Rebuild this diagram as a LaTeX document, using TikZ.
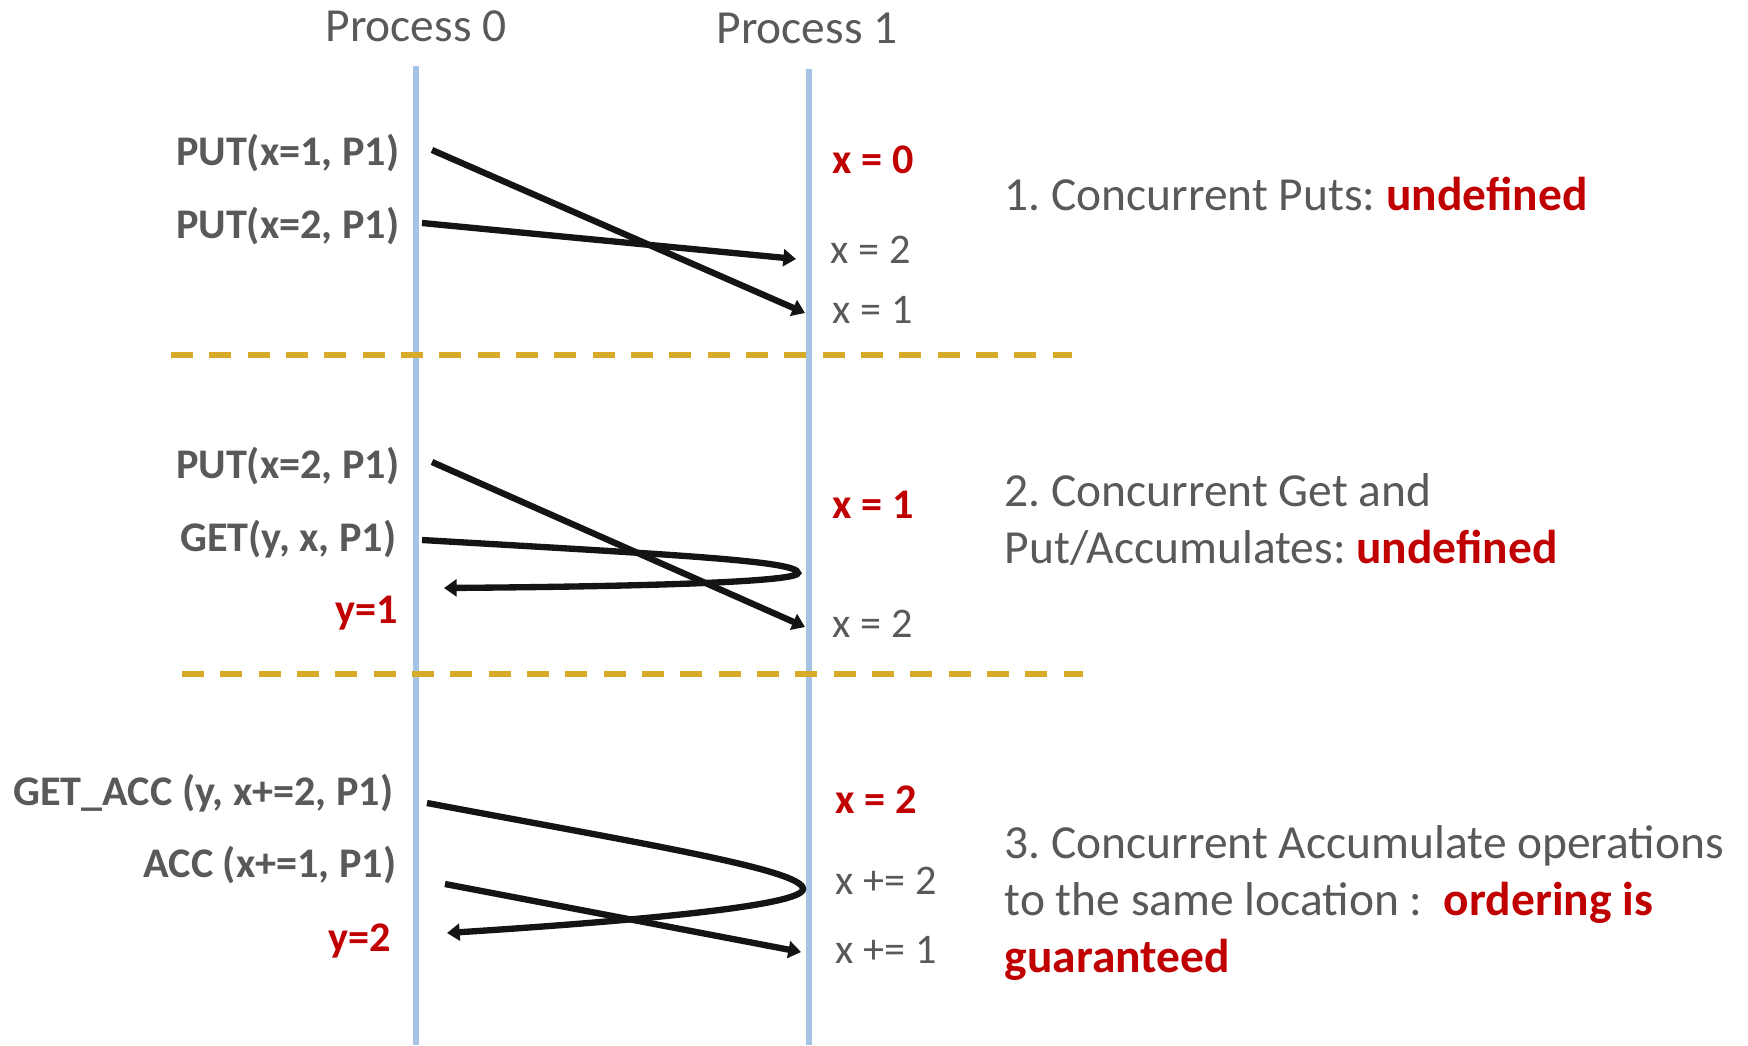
\documentclass[tikz,border=0pt]{standalone}
\usepackage{fontspec}
\setmainfont{Carlito}
\usetikzlibrary{positioning,calc,arrows.meta}
\frenchspacing

\definecolor{txtgray}{RGB}{89,89,89}
\definecolor{hotred}{RGB}{192,0,0}
\definecolor{lifeblue}{RGB}{165,196,228}
\definecolor{sepgold}{RGB}{216,170,42}

\tikzset{
	proc/.style={anchor=base, inner sep=0pt, text=txtgray, font=\fontsize{13.5}{16.2}\selectfont},
	op/.style={anchor=base east, inner sep=0pt, text=txtgray, font=\fontsize{12}{14}\selectfont\bfseries},
	res/.style={op, text=hotred},
	val/.style={anchor=base west, inner sep=0pt, text=txtgray, font=\fontsize{12}{14}\selectfont},
	curval/.style={val, text=hotred, font=\fontsize{12}{14}\selectfont\bfseries},
	note/.style={anchor=base west, inner sep=0pt, align=left, text=txtgray, font=\fontsize{13.5}{16.2}\selectfont},
	lifeline/.style={draw=lifeblue, line width=1.5pt},
	sep/.style={draw=sepgold, line width=1.6pt, dash pattern=on 6.3pt off 4.6pt},
	msg/.style={draw=black!92, line width=1.8pt, -{Triangle[length=3.6pt,width=4.8pt]}},
}
\newcommand{\hot}[1]{\textcolor{hotred}{\textbf{#1}}}

\begin{document}
\begin{tikzpicture}[x=0.01cm, y=-0.01cm]
	\useasboundingbox (0,0) rectangle (1748,1045);

	% processes and their time lines
	\node[proc] (proc0) at (416,41) {Process 0};
	\node[proc] (proc1) at (807,43) {Process 1};
	\coordinate (p0top) at (416,66);
	\coordinate (p0bot) at (416,1045);
	\coordinate (p1top) at (809,69);
	\coordinate (p1bot) at (809,1045);
	\draw[lifeline] (p0top) -- (p0bot);
	\draw[lifeline] (p1top) -- (p1bot);

	% separators
	\coordinate (sepa1) at (171,355);
	\coordinate (sepa2) at (1072,355);
	\coordinate (sepb1) at (182,674);
	\coordinate (sepb2) at (1083,674);
	\draw[sep] (sepa1) -- (sepa2);
	\draw[sep] (sepb1) -- (sepb2);

	% case 1: concurrent puts
	\node[op] (put1) at (400,165) {PUT(x=1, P1)};
	\node[op] (put2) at (400,238) {PUT(x=2, P1)};
	\node[curval] (xzero) at (832,173) {x = 0};
	\node[val] (xtwo) at (830,263) {x = 2};
	\node[val] (xone) at (832,323) {x = 1};
	\node[note] (case1) at (1004,210) {1. Concurrent Puts: \hot{undefined}};

	\coordinate (put1s) at (432,150);
	\coordinate (put1e) at (805,313);
	\coordinate (put2s) at (422,223);
	\coordinate (put2e) at (796,259);
	\draw[msg] (put1s) -- (put1e);
	\draw[msg] (put2s) -- (put2e);

	% case 2: get and put
	\node[op] (put3) at (400,478) {PUT(x=2, P1)};
	\node[op] (get) at (397,551) {GET(y, x, P1)};
	\node[res] (yone) at (399,623) {y=1};
	\node[curval] (xone2) at (832,518) {x = 1};
	\node[val] (xtwo2) at (832,637) {x = 2};
	% base of a multi-line note is its last line
	\node[note] (case2) at (1004,563) {2. Concurrent Get and\\Put/Accumulates: \hot{undefined}};

	\coordinate (put3s) at (432,462);
	\coordinate (put3e) at (805,627);
	\coordinate (gets) at (422,540);
	\coordinate (gettip) at (798,573);
	\coordinate (gete) at (444,588);
	\draw[msg] (put3s) -- (put3e);
	\draw[msg] (gets) .. controls (680,555) and (798,561) .. (gettip)
		.. controls (798,580) and (700,586) .. (gete);

	% case 3: accumulates
	\node[op] (getacc) at (394,805) {GET\_ACC (y, x+=2, P1)};
	\node[op] (acc) at (397,877) {ACC (x+=1, P1)};
	\node[res] (ytwo) at (392,951) {y=2};
	\node[curval] (xtwo3) at (835,813) {x = 2};
	\node[val] (xinc2) at (835,894) {x += 2};
	\node[val] (xinc1) at (835,963) {x += 1};
	\node[note] (case3) at (1004,972) {3. Concurrent Accumulate operations\\to the same location :~~\hot{ordering is}\\\hot{guaranteed}};

	\coordinate (gaccs) at (427,803);
	\coordinate (gacctip) at (803,889);
	\coordinate (gacce) at (447,933);
	\coordinate (accs) at (445,884);
	\coordinate (acce) at (801,952);
	\draw[msg] (gaccs) .. controls (650,845) and (803,870) .. (gacctip)
		.. controls (803,905) and (650,920) .. (gacce);
	\draw[msg] (accs) -- (acce);
\end{tikzpicture}
\end{document}
